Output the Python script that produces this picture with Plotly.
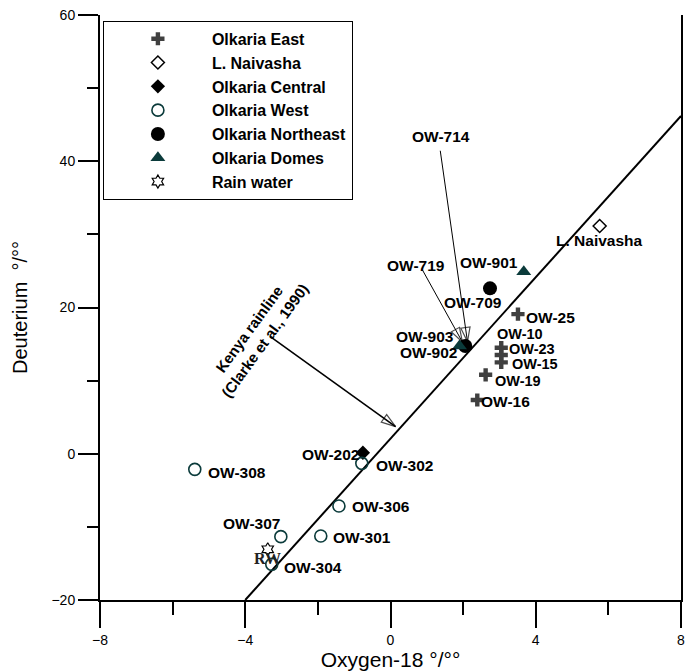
import plotly.graph_objects as go

# ---------------- data ----------------
east_names = ["OW-25", "OW-10", "OW-23", "OW-15", "OW-19", "OW-16"]
east_x = [3.51, 3.05, 3.05, 3.05, 2.62, 2.39]
east_y = [19.1, 14.5, 13.5, 12.5, 10.8, 7.35]

naivasha_x = [5.76]
naivasha_y = [31.15]

central_names = ["OW-202"]
central_x = [-0.76]
central_y = [0.14]

west_names = ["OW-308", "OW-302", "OW-306", "OW-307", "OW-301", "OW-304"]
west_x = [-5.39, -0.79, -1.42, -3.02, -1.92, -3.27]
west_y = [-2.13, -1.31, -7.15, -11.34, -11.25, -15.12]

northeast_names = ["OW-709", "OW-902"]
northeast_x = [2.74, 2.06]
northeast_y = [22.62, 14.73]

domes_names = ["OW-901", "OW-903"]
domes_x = [3.67, 1.90]
domes_y = [24.9, 14.73]

rain_x = [-3.38]
rain_y = [-13.07]

# Kenya rainline (Clarke et al., 1990) end points
line_x = [-4.0, 8.0]
line_y = [-20.0, 46.2]

# point labels: text, x, y
label_text = ["OW-714", "L. Naivasha", "OW-719", "OW-901", "OW-709", "OW-25",
              "OW-10", "OW-23", "OW-15", "OW-19", "OW-16", "OW-903", "OW-902",
              "OW-202", "OW-302", "OW-308", "OW-306", "OW-307", "OW-301", "OW-304"]
label_x = [1.38, 5.76, 0.69, 2.72, 2.28, 4.41, 3.57, 3.90, 3.98, 3.51, 3.16,
           0.94, 1.05, -1.66, 0.39, -4.24, -0.27, -3.83, -0.79, -2.13]
label_y = [43.32, 29.23, 25.68, 26.09, 20.62, 18.70, 16.4, 14.35, 12.3, 9.95,
           7.21, 16.10, 13.78, -0.17, -1.54, -2.50, -7.28, -9.60, -11.52, -15.49]
label_size = [15.5] * 6 + [14.5] * 4 + [15.5] * 10

# pointer arrows: (start x, start y, tip x, tip y)
arrow_x0 = [1.37, 0.88, -3.31]
arrow_y0 = [41.44, 25.13, 16.01]
arrow_x1 = [2.12, 1.98, 0.14]
arrow_y1 = [15.32, 15.28, 3.70]
arrow_w = [1, 1, 1.6]

FONT = "Liberation Sans, Arial, sans-serif"
TEAL = "#0b3b3b"
GREY = "#404040"

fig = go.Figure()

# rainline
fig.add_trace(go.Scatter(x=line_x, y=line_y, mode="lines",
                         line=dict(color="black", width=2), showlegend=False,
                         hoverinfo="skip"))

# arrows
for i in range(len(arrow_x0)):
    fig.add_trace(go.Scatter(
        x=[arrow_x0[i], arrow_x1[i]], y=[arrow_y0[i], arrow_y1[i]],
        mode="lines+markers",
        line=dict(color="black", width=arrow_w[i]),
        marker=dict(symbol="arrow-open", size=[0, 15], angleref="previous",
                    color="black", line=dict(width=1.2, color="black")),
        showlegend=False, hoverinfo="skip"))

groups = [
    ("Olkaria East", east_x, east_y, dict(symbol="cross", size=11, color=GREY)),
    ("L. Naivasha", naivasha_x, naivasha_y,
     dict(symbol="diamond-open", size=10, color="black", line=dict(width=1.5, color="black"))),
    ("Olkaria Central", central_x, central_y, dict(symbol="diamond", size=11, color="black")),
    ("Olkaria West", west_x, west_y,
     dict(symbol="circle-open", size=12, color=TEAL, line=dict(width=1.6, color=TEAL))),
    ("Olkaria Northeast", northeast_x, northeast_y, dict(symbol="circle", size=14, color="black")),
    ("Olkaria Domes", domes_x, domes_y, dict(symbol="triangle-up", size=13, color=TEAL)),
    ("Rain water", rain_x, rain_y,
     dict(symbol="hexagram-open", size=10, color="black", line=dict(width=1.2, color="black"))),
]
for k, (name, xs, ys, mk) in enumerate(groups):
    fig.add_trace(go.Scatter(x=xs, y=ys, mode="markers", name="<b>%s</b>" % name,
                             marker=mk, cliponaxis=False))

ann = []
for t, x, y, s in zip(label_text, label_x, label_y, label_size):
    ann.append(dict(x=x, y=y, text="<b>%s</b>" % t, showarrow=False,
                    xanchor="center", yanchor="middle",
                    font=dict(family=FONT, size=s, color="black")))
ann.append(dict(x=-3.39, y=-14.39, text="<b>RW</b>", showarrow=False,
                font=dict(family="Liberation Serif, Times New Roman, serif", size=16, color="#222")))
ann.append(dict(x=-3.69, y=16.24, text="<b>Kenya rainline<br>(Clarke et al., 1990)</b>",
                showarrow=False, textangle=-54,
                font=dict(family=FONT, size=15, color="black")))

fig.update_layout(
    width=691, height=671,
    margin=dict(l=100, r=6, t=15, b=71),
    paper_bgcolor="white", plot_bgcolor="white",
    font=dict(family=FONT, color="black"),
    annotations=ann,
    legend=dict(x=0.005, y=0.99, xanchor="left", yanchor="top",
                bordercolor="black", borderwidth=1, bgcolor="white",
                font=dict(family=FONT, size=16, color="black"),
                itemwidth=98, traceorder="normal"),
    xaxis=dict(range=[-8, 8], tickvals=[-8, -4, 0, 4, 8], showgrid=False, zeroline=False,
               showline=True, linecolor="black", linewidth=2,
               ticks="outside", ticklen=26, tickwidth=2, tickcolor="black",
               minor=dict(dtick=2, tick0=0, ticks="outside", ticklen=13, tickwidth=2,
                          tickcolor="black", showgrid=False),
               tickfont=dict(size=14, family=FONT),
               title=dict(text="Oxygen-18 °/°°", font=dict(size=21, family=FONT), standoff=2)),
    yaxis=dict(range=[-20, 60], tickvals=[-20, 0, 20, 40, 60], showgrid=False, zeroline=False,
               showline=True, linecolor="black", linewidth=2, mirror=True,
               ticks="outside", ticklen=20, tickwidth=2, tickcolor="black",
               minor=dict(dtick=10, tick0=0, ticks="outside", ticklen=11, tickwidth=2,
                          tickcolor="black", showgrid=False),
               tickfont=dict(size=14, family=FONT),
               title=dict(text="Deuterium  °/°°", font=dict(size=20, family=FONT), standoff=18)),
)

fig.write_html("out.html")
